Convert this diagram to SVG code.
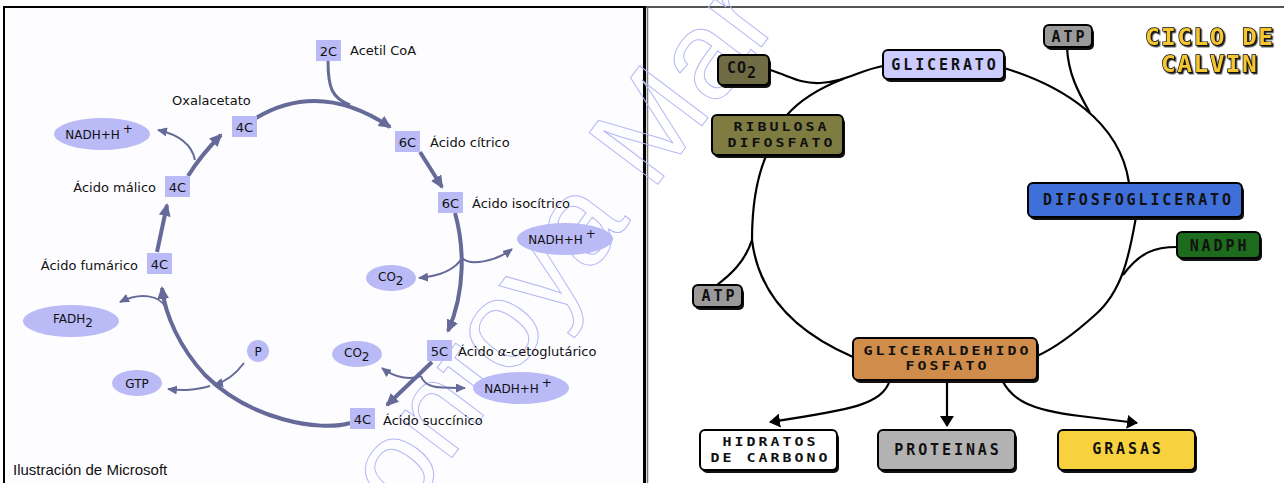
<svg xmlns="http://www.w3.org/2000/svg" width="1284" height="483" viewBox="0 0 1284 483">
<defs>
<style>
.lt{font-family:"DejaVu Sans",sans-serif;font-size:13px;fill:#111}
.et{font-family:"DejaVu Sans",sans-serif;font-size:12px;fill:#111}
.bx{fill:#babaf7}
.el{fill:#babaf7}
.th{fill:none;stroke:#666a98;stroke-width:4}
.tn{fill:none;stroke:#666a98;stroke-width:2}
.rl{fill:none;stroke:#000;stroke-width:2.2}
.sh{fill:#111}
.rb{stroke:#000;stroke-width:2}
.rt{font-family:"DejaVu Sans Mono",monospace;font-weight:bold;font-size:15px;letter-spacing:2.9px;fill:#111;text-anchor:middle}
.r2{font-family:"DejaVu Sans Mono",monospace;font-weight:bold;font-size:13px;letter-spacing:2.6px;fill:#111;text-anchor:middle}
.ttl{font-family:"DejaVu Sans Mono",monospace;font-weight:bold;font-size:23px;letter-spacing:1.3px;text-anchor:middle;fill:#f5c530;stroke:#000;stroke-width:1.3px;paint-order:stroke}
</style>
<filter id="ds" x="-10%" y="-20%" width="130%" height="150%"><feDropShadow dx="1.5" dy="1.5" stdDeviation="0" flood-color="#222" flood-opacity="1"/></filter>
<marker id="ak" markerUnits="userSpaceOnUse" markerWidth="13" markerHeight="12" refX="11" refY="6" orient="auto"><path d="M0,0 L13,6 L0,12 z" fill="#666a98"/></marker>
<marker id="as" markerUnits="userSpaceOnUse" markerWidth="10" markerHeight="9" refX="9" refY="4.5" orient="auto"><path d="M0,0 L10,4.5 L0,9 z" fill="#666a98"/></marker>
<marker id="ab" markerUnits="userSpaceOnUse" markerWidth="11" markerHeight="14" refX="10" refY="7" orient="auto"><path d="M0,0 L11,7 L0,14 z" fill="#000"/></marker>
</defs>
<rect width="1284" height="483" fill="#ffffff"/>
<rect x="5" y="8" width="638" height="475" fill="#fdfdff"/>
<rect x="648" y="8" width="636" height="475" fill="#ffffff"/>
<g id="frames">
<line x1="3" y1="7" x2="646" y2="7" stroke="#000" stroke-width="2"/>
<line x1="4" y1="6" x2="4" y2="483" stroke="#000" stroke-width="2"/>
<line x1="644.5" y1="6" x2="644.5" y2="483" stroke="#000" stroke-width="3"/>
<line x1="647.5" y1="7" x2="647.5" y2="483" stroke="#777" stroke-width="1.5"/>
<line x1="646" y1="7" x2="1284" y2="7" stroke="#555" stroke-width="2"/>
</g>
<!-- watermark -->
<text transform="translate(405,520) rotate(-53)" font-family="Liberation Sans, sans-serif" font-size="125" fill="none" stroke="#b4b8f4" stroke-width="1">ontoya Mar</text>

<!-- LEFT: Krebs connectors -->
<g id="krebs-connectors">
<path class="th" d="M256,118 Q320,80 390,127" marker-end="url(#ak)"/>
<path class="th" style="stroke-width:3" d="M328,61 C328,88 332,98 350,105"/>
<path class="th" d="M420,152 L442,187" marker-end="url(#ak)"/>
<path class="th" d="M455,213 C464,245 466,290 448,331" marker-end="url(#ak)"/>
<path class="tn" d="M462,258 C470,266 495,262 512,249" marker-end="url(#as)"/>
<path class="tn" d="M462,258 C455,270 440,276 419,278" marker-end="url(#as)"/>
<path class="th" d="M432,362 L387,405" marker-end="url(#ak)"/>
<path class="tn" d="M421,376 C410,380 395,378 382,368" marker-end="url(#as)"/>
<path class="tn" d="M421,376 C425,389 440,388 465,388" marker-end="url(#as)"/>
<path class="th" d="M350,423 C320,432 250,420 205,375 C180,348 165,315 162,288" marker-end="url(#ak)"/>
<path class="tn" d="M166,308 C160,295 140,292 120,302" marker-end="url(#as)"/>
<path class="tn" d="M244,363 C235,375 225,382 214,385" marker-end="url(#as)"/>
<path class="tn" d="M210,386 C195,390 185,391 168,389" marker-end="url(#as)"/>
<path class="th" d="M157,252 L167,205" marker-end="url(#ak)"/>
<path class="th" d="M188,176 C198,160 208,148 221,135" marker-end="url(#ak)"/>
<path class="tn" d="M195,160 C192,145 180,135 158,130" marker-end="url(#as)"/>
</g>

<!-- LEFT: nodes -->
<g id="n-acetil"><rect class="bx" x="316" y="40" width="25" height="21"/><text class="lt" x="328.5" y="55.5" text-anchor="middle">2C</text><text class="lt" x="350" y="55">Acetil CoA</text></g>
<g id="n-citrico"><rect class="bx" x="395" y="131" width="25" height="21"/><text class="lt" x="407.5" y="146.5" text-anchor="middle">6C</text><text class="lt" x="430" y="147">Ácido cítrico</text></g>
<g id="n-isocitrico"><rect class="bx" x="438" y="192" width="25" height="21"/><text class="lt" x="450.5" y="207.5" text-anchor="middle">6C</text><text class="lt" x="472" y="208">Ácido isocítrico</text></g>
<g id="n-cetoglutarico"><rect class="bx" x="427" y="340" width="25" height="21"/><text class="lt" x="439.5" y="355.5" text-anchor="middle">5C</text><text class="lt" x="458" y="356">Ácido <tspan font-style="italic">α</tspan>-cetoglutárico</text></g>
<g id="n-succinico"><rect class="bx" x="350" y="408" width="25" height="21"/><text class="lt" x="362.5" y="423.5" text-anchor="middle">4C</text><text class="lt" x="383" y="425">Ácido succínico</text></g>
<g id="n-fumarico"><rect class="bx" x="147" y="253" width="25" height="21"/><text class="lt" x="159.5" y="268.5" text-anchor="middle">4C</text><text class="lt" x="138" y="270" text-anchor="end">Ácido fumárico</text></g>
<g id="n-malico"><rect class="bx" x="165" y="176" width="25" height="21"/><text class="lt" x="177.5" y="191.5" text-anchor="middle">4C</text><text class="lt" x="156" y="192" text-anchor="end">Ácido málico</text></g>
<g id="n-oxalacetato"><rect class="bx" x="232" y="116" width="25" height="21"/><text class="lt" x="244.5" y="131.5" text-anchor="middle">4C</text><text class="lt" x="172" y="105">Oxalacetato</text></g>
<g id="n-nadh1"><ellipse class="el" cx="102" cy="134" rx="48" ry="16"/><text class="et" x="99" y="139" text-anchor="middle">NADH+H<tspan dy="-6" dx="3">+</tspan></text></g>
<g id="n-nadh2"><ellipse class="el" cx="565" cy="239" rx="48" ry="16"/><text class="et" x="562" y="244" text-anchor="middle">NADH+H<tspan dy="-6" dx="3">+</tspan></text></g>
<g id="n-nadh3"><ellipse class="el" cx="521" cy="388" rx="48" ry="16"/><text class="et" x="518" y="393" text-anchor="middle">NADH+H<tspan dy="-6" dx="3">+</tspan></text></g>
<g id="n-co2a"><ellipse class="el" cx="391" cy="278" rx="25" ry="13"/><text class="et" x="378" y="281">CO<tspan dy="4">2</tspan></text></g>
<g id="n-co2b"><ellipse class="el" cx="357" cy="354" rx="25" ry="13"/><text class="et" x="344" y="357">CO<tspan dy="4">2</tspan></text></g>
<g id="n-fadh2"><ellipse class="el" cx="71" cy="321" rx="48" ry="16"/><text class="et" x="53" y="323">FADH<tspan dy="4">2</tspan></text></g>
<g id="n-gtp"><ellipse class="el" cx="137" cy="383" rx="25" ry="13"/><text class="et" x="137" y="388" text-anchor="middle">GTP</text></g>
<g id="n-p"><circle class="el" cx="258" cy="351" r="11"/><text class="et" x="258" y="356" text-anchor="middle">P</text></g>
<text x="13" y="475" font-family="Liberation Sans, sans-serif" font-size="15" fill="#111">Ilustración de Microsoft</text>

<!-- RIGHT: Calvin connectors -->
<g id="calvin-connectors">
<path class="rl" d="M770,70 C790,76 800,84 820,83 C845,82 860,70 883,66"/>
<path class="rl" d="M787,115 C800,100 820,88 843,79"/>
<path class="rl" d="M1004,68 C1060,85 1120,120 1129,183"/>
<path class="rl" d="M1067,47 C1068,75 1080,95 1090,113"/>
<path class="rl" d="M1136,217 C1130,250 1124,290 1095,315 C1075,333 1055,348 1037,356"/>
<path class="rl" d="M1177,247 C1155,247 1140,252 1123,275"/>
<path class="rl" d="M766,156 C758,175 752,205 752,240"/>
<path class="rl" d="M752,240 C745,262 730,275 717,285"/>
<path class="rl" d="M752,240 C758,290 790,330 853,357"/>
<path class="rl" d="M890,380 C882,405 850,410 770,422" marker-end="url(#ab)"/>
<path class="rl" d="M947,380 L947,426" marker-end="url(#ab)"/>
<path class="rl" d="M1002,380 C1012,400 1030,410 1080,416 L1137,423" marker-end="url(#ab)"/>
</g>

<!-- RIGHT: nodes -->
<g id="n-title" filter="url(#ds)">
<text class="ttl" transform="translate(1209,0) scale(1.07,1)"><tspan x="0.6" y="45.5">CICLO DE</tspan><tspan x="0.6" y="72.5">CALVIN</tspan></text>
</g>
<g id="n-rco2"><rect class="sh" x="720" y="58" width="51" height="30" rx="5"/><rect class="rb" x="718" y="55" width="51" height="30" rx="5" fill="#6e6b45"/><text class="rt" x="727" y="73" style="letter-spacing:1px;text-anchor:start">CO<tspan dy="5">2</tspan></text></g>
<g id="n-glicerato"><rect class="sh" x="885" y="53" width="121" height="29" rx="5"/><rect class="rb" x="883" y="50" width="121" height="29" rx="5" fill="#ccccff"/><text class="rt" x="945" y="69.5">GLICERATO</text></g>
<g id="n-atp1"><rect class="sh" x="1046" y="28" width="48" height="22" rx="5"/><rect class="rb" x="1044" y="25" width="48" height="22" rx="5" fill="#9a9a9a"/><text class="rt" x="1069.5" y="42">ATP</text></g>
<g id="n-ribulosa"><rect class="sh" x="714" y="118" width="131" height="40" rx="5"/><rect class="rb" x="712" y="115" width="131" height="40" rx="5" fill="#7f7c42"/><text class="r2" transform="translate(780,0) scale(1.15,1)"><tspan x="1.3" y="131.5">RIBULOSA</tspan><tspan x="1.3" y="147">DIFOSFATO</tspan></text></g>
<g id="n-difosfoglicerato"><rect class="sh" x="1030" y="186" width="214" height="34" rx="5"/><rect class="rb" x="1028" y="183" width="214" height="34" rx="5" fill="#3f6fd8"/><text class="rt" x="1138.5" y="205">DIFOSFOGLICERATO</text></g>
<g id="n-nadph"><rect class="sh" x="1179" y="235" width="83" height="26" rx="5"/><rect class="rb" x="1177" y="232" width="83" height="26" rx="5" fill="#1d6b1d"/><text class="rt" x="1219.5" y="250.5">NADPH</text></g>
<g id="n-atp2"><rect class="sh" x="695" y="288" width="49" height="22" rx="5"/><rect class="rb" x="693" y="285" width="49" height="22" rx="5" fill="#9a9a9a"/><text class="rt" x="719.5" y="301">ATP</text></g>
<g id="n-gliceraldehido"><rect class="sh" x="855" y="341" width="184" height="42" rx="5"/><rect class="rb" x="853" y="338" width="184" height="42" rx="5" fill="#cf8c4b"/><text class="r2" transform="translate(946,0) scale(1.15,1)"><tspan x="1.3" y="355">GLICERALDEHIDO</tspan><tspan x="1.3" y="370.5">FOSFATO</tspan></text></g>
<g id="n-hidratos"><rect class="sh" x="702" y="433" width="137" height="40" rx="5"/><rect class="rb" x="700" y="430" width="137" height="40" rx="5" fill="#ffffff"/><text class="r2" transform="translate(769,0) scale(1.15,1)"><tspan x="1.3" y="446.5">HIDRATOS</tspan><tspan x="1.3" y="462">DE CARBONO</tspan></text></g>
<g id="n-proteinas"><rect class="sh" x="880" y="433" width="137" height="40" rx="5"/><rect class="rb" x="878" y="430" width="137" height="40" rx="5" fill="#b2b2b2"/><text class="rt" x="948" y="454.5">PROTEINAS</text></g>
<g id="n-grasas"><rect class="sh" x="1060" y="433" width="137" height="40" rx="5"/><rect class="rb" x="1058" y="430" width="137" height="40" rx="5" fill="#f8d13e"/><text class="rt" x="1128" y="454">GRASAS</text></g>
</svg>
